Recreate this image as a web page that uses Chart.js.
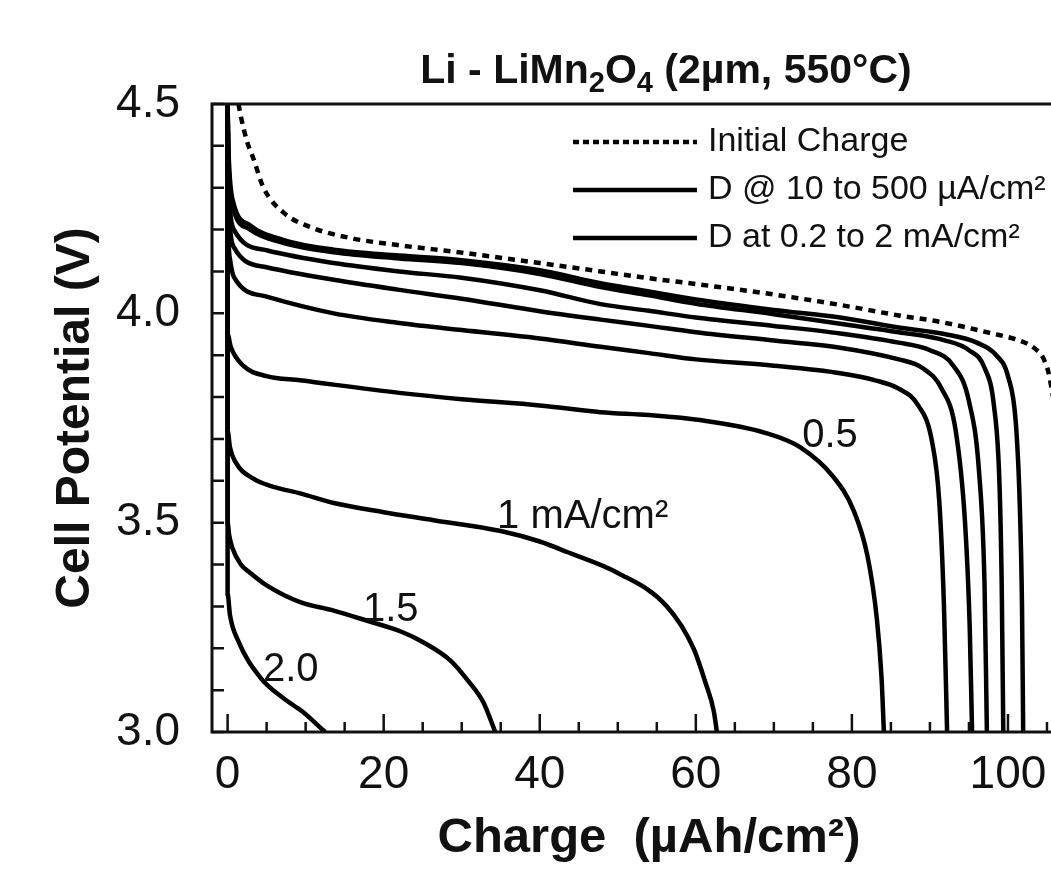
<!DOCTYPE html>
<html>
<head>
<meta charset="utf-8">
<script src="https://cdn.jsdelivr.net/npm/chart.js@4.4.1/dist/chart.umd.min.js"></script>
<style>
  html, body { margin: 0; padding: 0; background: #fff; overflow: hidden; }
  #wrap { width: 1100px; height: 870px; }
</style>
</head>
<body>
<div id="wrap"><canvas id="chart" width="1100" height="870"></canvas></div>
<script>
// axis labels
const chargeTicks = [0, 20, 40, 60, 80, 100];
const potentialTicks = [3.0, 3.5, 4.0, 4.5];

// [charge uAh/cm2, potential V]
const initialCharge = [[1.4,4.5],[1.7,4.47],[2.5,4.41],[3.3,4.37],[4.6,4.3],[7.2,4.24],[10.6,4.206],[15.7,4.18],[21.8,4.163],[30,4.145],[40,4.12],[47.8,4.1],[54,4.084],[60,4.07],[70,4.045],[78.5,4.02],[86,3.995],[91.5,3.979],[97.7,3.953],[101.9,3.932],[103.5,3.915],[104.6,3.89],[105.4,3.84],[106.2,3.72],[107,3.4],[107.4,3.0]];
const dischargeA = [[0,4.5],[0.1,4.4],[0.3,4.32],[0.8,4.26],[2.9,4.21],[7.2,4.175],[13.6,4.152],[22,4.138],[30,4.127],[40,4.103],[47.8,4.072],[54,4.052],[60,4.033],[70,4.008],[78.5,3.99],[86,3.966],[92,3.95],[96,3.93],[98.5,3.9],[100,3.85],[101,3.74],[101.5,3.55],[101.8,3.3],[101.95,3.0]];
const dischargeB = [[0,4.5],[0.1,4.38],[0.3,4.3],[0.8,4.245],[2.9,4.2],[7.2,4.168],[13.6,4.146],[22,4.131],[30,4.12],[40,4.094],[47.8,4.063],[54,4.043],[60,4.023],[70,3.998],[78.5,3.975],[86,3.955],[92,3.935],[95,3.912],[97,3.87],[98.2,3.78],[98.9,3.6],[99.2,3.35],[99.4,3.0]];
const dischargeC = [[0,4.5],[0.1,4.33],[0.3,4.25],[0.8,4.2],[5.1,4.15],[13.6,4.12],[22,4.1],[30,4.085],[40,4.055],[47.8,4.022],[54,4.006],[60,3.99],[70,3.97],[78.5,3.952],[86,3.93],[90,3.912],[93,3.875],[95,3.79],[96.3,3.62],[97,3.35],[97.3,3.0]];
const dischargeD = [[0,4.5],[0.1,4.3],[0.3,4.21],[0.8,4.158],[5,4.11],[13.6,4.08],[22,4.056],[30,4.035],[40,4.005],[47.8,3.985],[54,3.97],[60,3.955],[70,3.935],[78.5,3.918],[86,3.89],[89,3.87],[91.5,3.82],[93.3,3.72],[94.5,3.5],[95.1,3.25],[95.4,3.0]];
const discharge02 = [[0,4.5],[0.1,4.2],[0.3,4.13],[0.8,4.087],[5,4.04],[13.6,4.0],[22,3.977],[30,3.96],[40,3.94],[47.8,3.92],[54,3.905],[60,3.89],[70,3.875],[78.5,3.857],[83,3.84],[86,3.82],[88.5,3.78],[90.2,3.7],[91.2,3.55],[91.8,3.3],[92.2,3.0]];
const discharge05 = [[0,4.5],[0,3.95],[0.4,3.92],[2,3.875],[5,3.85],[9.3,3.84],[22,3.81],[30,3.795],[40,3.78],[47.8,3.764],[54,3.757],[60.5,3.745],[69,3.714],[73.4,3.68],[77.6,3.61],[80.2,3.53],[82,3.42],[83.2,3.27],[83.8,3.13],[84.1,3.0]];
const discharge10 = [[0,4.5],[0,3.72],[0.3,3.68],[1,3.645],[3.3,3.605],[6,3.585],[9.3,3.57],[13.6,3.547],[20,3.525],[26.4,3.506],[35,3.48],[40,3.455],[43.5,3.43],[50,3.38],[56.3,3.3],[59.7,3.2],[61.2,3.12],[62.3,3.05],[62.7,3.0]];
const discharge15 = [[0,4.5],[0,3.5],[0.2,3.47],[0.6,3.44],[1.7,3.4],[2.9,3.38],[5,3.35],[9.3,3.31],[13.6,3.29],[18,3.265],[22.2,3.24],[25,3.215],[28.6,3.17],[30.7,3.125],[32.8,3.07],[34.3,3.0]];
const discharge20 = [[0,4.5],[0,3.33],[0.3,3.28],[1.3,3.22],[4.2,3.13],[7.2,3.08],[9.5,3.05],[12.5,3.0]];

const legendLabels = ['Initial Charge', 'D @ 10 to 500 \u00b5A/cm\u00b2', 'D at 0.2 to 2 mA/cm\u00b2'];
const curveLabels = ['0.5', '1 mA/cm\u00b2', '1.5', '2.0'];
const curveLabelAt = [[77.2, 3.707], [45.5, 3.514], [20.9, 3.291], [8.1, 3.148]];

const series = [
    { name: 'Initial Charge', pts: initialCharge, dash: [7, 6] },
    { name: 'D low rate A', pts: dischargeA },
    { name: 'D low rate B', pts: dischargeB },
    { name: 'D low rate C', pts: dischargeC },
    { name: 'D low rate D', pts: dischargeD },
    { name: 'D 0.2 mA', pts: discharge02 },
    { name: 'D 0.5 mA', pts: discharge05 },
    { name: 'D 1 mA', pts: discharge10 },
    { name: 'D 1.5 mA', pts: discharge15 },
    { name: 'D 2 mA', pts: discharge20 }
];

const ink = '#111';
const FONT = '"Liberation Sans", Arial, Helvetica, sans-serif';

// frame, inward ticks, legend, curve labels, title
const decor = {
    id: 'decor',
    afterDraw(chart) {
        const ctx = chart.ctx;
        const a = chart.chartArea;
        const xs = chart.scales.x, ys = chart.scales.y;
        ctx.save();
        ctx.strokeStyle = ink;
        ctx.lineWidth = 3;
        ctx.strokeRect(a.left, a.top, a.right - a.left, a.bottom - a.top);
        ctx.lineWidth = 2.5;
        ctx.beginPath();
        for (let v = 0; v <= 110; v += 5) {
            const px = xs.getPixelForValue(v);
            const len = v % 20 === 0 ? 18 : 10;
            ctx.moveTo(px, a.bottom);
            ctx.lineTo(px, a.bottom - len);
        }
        for (let i = 0; i <= 15; i++) {
            const py = ys.getPixelForValue(3 + i * 0.1);
            ctx.moveTo(a.left, py);
            ctx.lineTo(a.left + 12, py);
        }
        ctx.stroke();

        // legend
        const lx0 = a.left + 361, lx1 = a.left + 485, rows = [a.top + 38, a.top + 86, a.top + 134];
        ctx.lineWidth = 4.5;
        ctx.strokeStyle = '#000';
        legendLabels.forEach((t, i) => {
            ctx.setLineDash(i === 0 ? [6, 4] : []);
            ctx.beginPath();
            ctx.moveTo(lx0, rows[i]);
            ctx.lineTo(lx1, rows[i]);
            ctx.stroke();
        });
        ctx.setLineDash([]);
        ctx.fillStyle = ink;
        ctx.font = '34px ' + FONT;
        ctx.textBaseline = 'middle';
        ctx.textAlign = 'left';
        legendLabels.forEach((t, i) => ctx.fillText(t, lx1 + 11, rows[i]));

        // curve labels
        ctx.font = '40px ' + FONT;
        ctx.textAlign = 'center';
        curveLabels.forEach((t, i) => {
            ctx.fillText(t, xs.getPixelForValue(curveLabelAt[i][0]), ys.getPixelForValue(curveLabelAt[i][1]));
        });

        // title with subscripts
        const parts = [['Li - LiMn', 0], ['2', 1], ['O', 0], ['4', 1], [' (2\u00b5m, 550\u00b0C)', 0]];
        const big = 'bold 41px ' + FONT, small = 'bold 29px ' + FONT;
        let w = 0;
        parts.forEach(p => { ctx.font = p[1] ? small : big; w += ctx.measureText(p[0]).width; });
        let x = a.left + 454 - w / 2;
        const y = 70;
        ctx.textAlign = 'left';
        ctx.textBaseline = 'alphabetic';
        parts.forEach(p => {
            ctx.font = p[1] ? small : big;
            ctx.fillText(p[0], x, y + 13 + (p[1] ? 9 : 0));
            x += ctx.measureText(p[0]).width;
        });
        ctx.restore();
    }
};

new Chart(document.getElementById('chart'), {
    type: 'scatter',
    data: {
        datasets: series.map(s => ({
            label: s.name,
            data: s.pts.map(p => ({ x: p[0], y: p[1] })),
            showLine: true,
            borderColor: '#000',
            borderWidth: 4.5,
            borderDash: s.dash || [],
            pointRadius: 0,
            cubicInterpolationMode: 'monotone',
            fill: false
        }))
    },
    options: {
        responsive: false,
        animation: false,
        layout: { padding: { top: 104, right: 14, bottom: 0, left: 0 } },
        plugins: { legend: { display: false }, tooltip: { enabled: false } },
        scales: {
            x: {
                type: 'linear',
                min: -2,
                max: 110,
                grid: { display: false, drawTicks: false },
                border: { display: false },
                afterBuildTicks: axis => { axis.ticks = chargeTicks.map(v => ({ value: v })); },
                afterFit: s => { s.height = 138; },
                ticks: {
                    color: ink,
                    padding: 16,
                    maxRotation: 0,
                    font: { family: FONT, size: 46 },
                    callback: v => String(v)
                },
                title: {
                    display: true,
                    text: 'Charge  (\u00b5Ah/cm\u00b2)',
                    color: ink,
                    font: { family: FONT, size: 49, weight: 'bold' },
                    padding: { top: 0, bottom: 2 }
                }
            },
            y: {
                min: 3.0,
                max: 4.5,
                grid: { display: false, drawTicks: false },
                border: { display: false },
                afterBuildTicks: axis => { axis.ticks = potentialTicks.map(v => ({ value: v })); },
                afterFit: s => { s.width = 212; },
                ticks: {
                    color: ink,
                    padding: 32,
                    font: { family: FONT, size: 46 },
                    callback: v => v.toFixed(1)
                },
                title: {
                    display: true,
                    text: 'Cell Potential (V)',
                    color: ink,
                    font: { family: FONT, size: 48, weight: 'bold' },
                    padding: { top: 47, bottom: 0 }
                }
            }
        }
    },
    plugins: [decor]
});
</script>
</body>
</html>
